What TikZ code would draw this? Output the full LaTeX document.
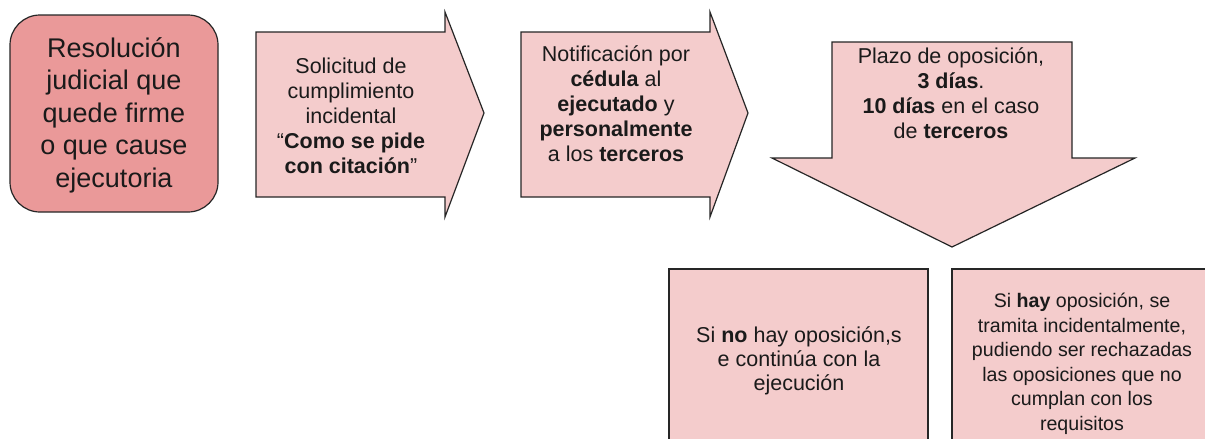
\documentclass[tikz,border=0pt]{standalone}
\usepackage{fontspec}
\setmainfont{Liberation Sans}
\definecolor{pinkdark}{HTML}{EA9999}
\definecolor{pinklight}{HTML}{F4CCCC}
\definecolor{edge}{HTML}{262626}
\definecolor{txt}{HTML}{1A1A1A}
\begin{document}
\begin{tikzpicture}[x=1pt,y=-1pt,
  shapebox/.style={draw=edge,line width=1.2pt,line join=miter},
  lbl/.style={align=center,text=txt,inner sep=0pt,font=\fontsize{21.5}{25}\selectfont},
  lblsmall/.style={align=center,text=txt,inner sep=0pt,font=\fontsize{21.5}{24}\selectfont}]
\clip (0,0) rectangle (1205,439);
\fill[white] (0,0) rectangle (1205,439);
% first rounded box
\draw[shapebox,fill=pinkdark,rounded corners=30pt] (10,15) rectangle (218,212);
\node[lbl,font=\fontsize{27}{32.5}\selectfont] (res) at (114,115)
  {Resolución\\judicial que\\quede firme\\o que cause\\ejecutoria};
% arrow 1
\draw[shapebox,fill=pinklight] (256,32) -- (445,32) -- (445,12) -- (484,113) -- (445,217) -- (445,197) -- (256,197) -- cycle;
\node[lbl] (sol) at (351,116)
  {Solicitud de\\cumplimiento\\incidental\\“\textbf{Como se pide}\\\textbf{con citación}”};
% arrow 2
\draw[shapebox,fill=pinklight] (521,32) -- (710,32) -- (710,12) -- (748,113) -- (710,217) -- (710,197) -- (521,197) -- cycle;
\node[lbl] (not) at (616,104)
  {Notificación por\\\textbf{cédula} al\\\textbf{ejecutado} y\\\textbf{personalmente}\\a los \textbf{terceros}};
% down arrow
\draw[shapebox,fill=pinklight] (832,42) -- (1072,42) -- (1072,158) -- (1135,158) -- (952,247) -- (772,158) -- (832,158) -- cycle;
\node[lbl] (pla) at (951,93)
  {Plazo de oposición,\\\textbf{3 días}.\\\textbf{10 días} en el caso\\de \textbf{terceros}};
% bottom boxes
\draw[shapebox,fill=pinklight] (669,269) rectangle (928,460);
\node[lblsmall] (no) at (799,361)
  {Si \textbf{no} hay oposición,s\\e continúa con la\\ejecución};
\draw[shapebox,fill=pinklight] (952,269) rectangle (1220,460);
\node[lblsmall,font=\fontsize{19.6}{24.5}\selectfont] (hay) at (1082,364)
  {Si \textbf{hay} oposición, se\\tramita incidentalmente,\\pudiendo ser rechazadas\\las oposiciones que no\\cumplan con los\\requisitos};
\end{tikzpicture}
\end{document}
